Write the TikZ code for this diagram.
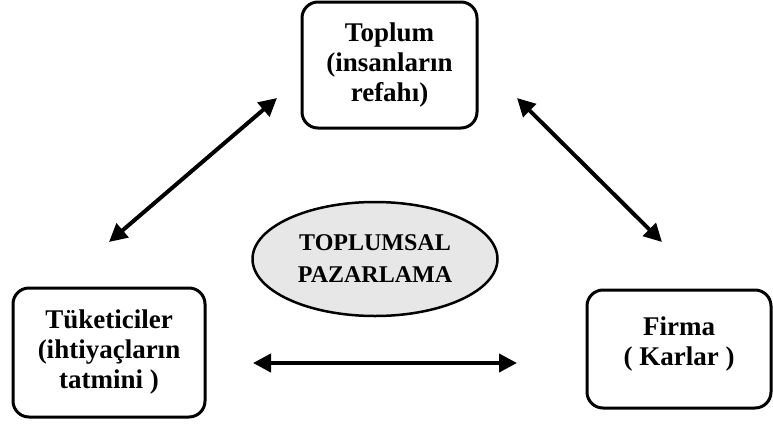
\documentclass[tikz,border=0pt]{standalone}
\usepackage{fontspec}
\setmainfont{Liberation Serif}
\usetikzlibrary{arrows.meta,shapes.geometric}
\definecolor{ovalgray}{HTML}{E7E7E7}
\begin{document}
\begin{tikzpicture}[x=1pt,y=-1pt,
  txt/.style={font=\fontsize{27}{30}\selectfont\bfseries, align=center},
  box/.style={txt, draw, line width=3pt, rounded corners=16pt, inner sep=0pt},
  oval/.style={ellipse, draw, line width=2.5pt, fill=ovalgray, inner sep=0pt,
    font=\fontsize{24}{32}\selectfont\bfseries, align=center},
  link/.style={line width=4pt, {Triangle[length=18pt,width=18pt]}-{Triangle[length=18pt,width=18pt]}}]
\fill[white] (0,0) rectangle (773,423);
\useasboundingbox (0,0) rectangle (773,423);
\node[box, minimum width=175pt, minimum height=126pt] (toplum) at (389.5,65) {Toplum\\(insanların\\refahı)};
\node[box, minimum width=192pt, minimum height=129pt] (tuketici) at (109,352.5) {Tüketiciler\\(ihtiyaçların\\tatmini )};
\node[box, minimum width=184pt, minimum height=118pt] (firma) at (679,349) {Firma\\( Karlar )\\[-14pt]\mbox{}};
\node[oval, minimum width=245pt, minimum height=114pt] (tp) at (375,259) {TOPLUMSAL\\PAZARLAMA};
\coordinate (l1) at (109,242);
\coordinate (l2) at (277,98);
\coordinate (r1) at (517,98);
\coordinate (r2) at (662,242);
\coordinate (b1) at (253,363);
\coordinate (b2) at (517,363);
\draw[link] (l1) -- (l2);
\draw[link] (r1) -- (r2);
\draw[link] (b1) -- (b2);
\end{tikzpicture}
\end{document}
